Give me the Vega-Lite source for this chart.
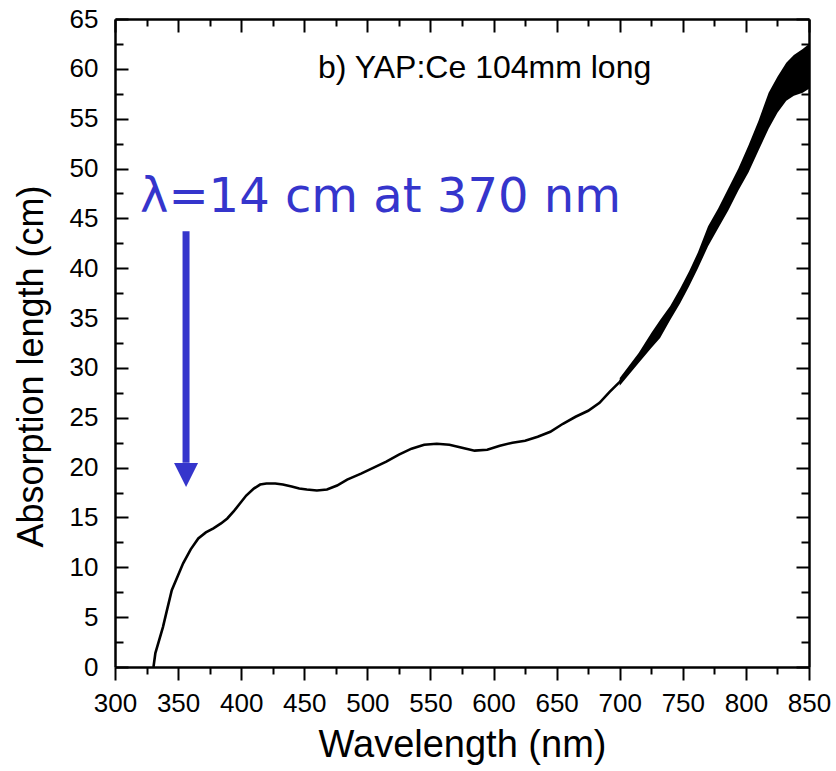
{
  "$schema": "https://vega.github.io/schema/vega-lite/v6.json",
  "width": 694,
  "height": 648,
  "autosize": {"type": "none"},
  "padding": {"left": 115, "top": 19, "right": 27, "bottom": 104},
  "background": "white",
  "view": {"stroke": null},
  "datasets": {
    "curve": [
      {"wl": 330.5, "len": 0}, {"wl": 332, "len": 1.4}, {"wl": 335, "len": 2.7}, {"wl": 338, "len": 4.0},
      {"wl": 341, "len": 5.6}, {"wl": 345, "len": 7.7}, {"wl": 350, "len": 9.2}, {"wl": 354, "len": 10.4},
      {"wl": 360, "len": 11.8}, {"wl": 366, "len": 12.9}, {"wl": 372, "len": 13.5}, {"wl": 378, "len": 13.9},
      {"wl": 384, "len": 14.4}, {"wl": 389, "len": 14.9}, {"wl": 394, "len": 15.6}, {"wl": 399, "len": 16.4},
      {"wl": 404, "len": 17.2}, {"wl": 410, "len": 17.9}, {"wl": 415, "len": 18.3}, {"wl": 420, "len": 18.4},
      {"wl": 427, "len": 18.4}, {"wl": 433, "len": 18.3}, {"wl": 440, "len": 18.1}, {"wl": 446, "len": 17.9},
      {"wl": 452, "len": 17.8}, {"wl": 460, "len": 17.7}, {"wl": 468, "len": 17.8}, {"wl": 476, "len": 18.2},
      {"wl": 484, "len": 18.8}, {"wl": 495, "len": 19.4}, {"wl": 505, "len": 20.0}, {"wl": 515, "len": 20.6},
      {"wl": 525, "len": 21.3}, {"wl": 535, "len": 21.9}, {"wl": 545, "len": 22.3}, {"wl": 555, "len": 22.4},
      {"wl": 565, "len": 22.3}, {"wl": 575, "len": 22.0}, {"wl": 585, "len": 21.7}, {"wl": 595, "len": 21.8},
      {"wl": 605, "len": 22.2}, {"wl": 615, "len": 22.5}, {"wl": 625, "len": 22.7}, {"wl": 635, "len": 23.1},
      {"wl": 645, "len": 23.6}, {"wl": 655, "len": 24.4}, {"wl": 665, "len": 25.1}, {"wl": 675, "len": 25.7},
      {"wl": 684, "len": 26.5}, {"wl": 692, "len": 27.6}, {"wl": 700, "len": 28.6}, {"wl": 706, "len": 29.5},
      {"wl": 715, "len": 31.0}, {"wl": 724, "len": 32.5}, {"wl": 732, "len": 33.8}, {"wl": 740, "len": 35.4},
      {"wl": 747, "len": 37.0}, {"wl": 753, "len": 38.4}, {"wl": 760, "len": 40.0}, {"wl": 766, "len": 41.6},
      {"wl": 772, "len": 43.2}, {"wl": 780, "len": 45.0}, {"wl": 790, "len": 47.5}, {"wl": 798, "len": 49.6},
      {"wl": 806, "len": 51.6}, {"wl": 813, "len": 53.5}, {"wl": 819, "len": 55.4}, {"wl": 826, "len": 57.3},
      {"wl": 833, "len": 58.6}, {"wl": 840, "len": 59.3}, {"wl": 845, "len": 59.6}, {"wl": 850, "len": 60.0}
    ],
    "band": [
      {"wl": 700, "lo": 28.2, "hi": 29.0}, {"wl": 715, "lo": 30.5, "hi": 31.5}, {"wl": 725, "lo": 32.0, "hi": 33.5},
      {"wl": 732, "lo": 33.0, "hi": 34.8}, {"wl": 740, "lo": 34.8, "hi": 36.2}, {"wl": 748, "lo": 36.5, "hi": 38.0},
      {"wl": 755, "lo": 38.2, "hi": 39.7}, {"wl": 762, "lo": 40.0, "hi": 41.6}, {"wl": 770, "lo": 42.2, "hi": 44.2},
      {"wl": 778, "lo": 44.0, "hi": 46.0}, {"wl": 786, "lo": 45.8, "hi": 48.0}, {"wl": 794, "lo": 47.8, "hi": 50.0},
      {"wl": 802, "lo": 49.6, "hi": 52.3}, {"wl": 810, "lo": 51.8, "hi": 54.8}, {"wl": 818, "lo": 54.0, "hi": 57.6},
      {"wl": 825, "lo": 55.6, "hi": 59.2}, {"wl": 832, "lo": 56.8, "hi": 60.6}, {"wl": 838, "lo": 57.3, "hi": 61.4},
      {"wl": 845, "lo": 57.6, "hi": 62.0}, {"wl": 850, "lo": 58.0, "hi": 62.5}
    ],
    "notes": [
      {"wl": 460.9, "len": 59.1, "txt": "b) YAP:Ce 104mm long"}
    ],
    "blue": [
      {"wl": 319.8, "len": 45.6, "txt": "λ=14 cm at 370 nm"}
    ],
    "arrow": [
      {"wl": 356.3, "top": 43.7, "base": 20.5, "head": 19.26}
    ]
  },
  "layer": [
    {
      "data": {"name": "curve"},
      "mark": {"type": "line", "color": "black", "strokeWidth": 2.6},
      "encoding": {
        "x": {
          "field": "wl", "type": "quantitative",
          "scale": {"domain": [300, 850], "nice": false, "zero": false},
          "axis": {
            "orient": "bottom",
            "values": [300, 350, 400, 450, 500, 550, 600, 650, 700, 750, 800, 850],
            "grid": false,
            "tickSize": 13, "tickWidth": 2, "tickColor": "black",
            "domainColor": "black", "domainWidth": 2.5,
            "labelFont": "Liberation Sans", "labelFontSize": 26, "labelColor": "black",
            "labelPadding": 10, "labelFlush": false, "labelOverlap": false,
            "title": "Wavelength (nm)",
            "titleFont": "Liberation Sans", "titleFontSize": 38, "titleFontWeight": "normal", "titleColor": "black",
            "titleY": 89, "titleBaseline": "alphabetic"
          }
        },
        "y": {
          "field": "len", "type": "quantitative",
          "scale": {"domain": [0, 65], "nice": false, "zero": false},
          "axis": {
            "orient": "left",
            "values": [0, 5, 10, 15, 20, 25, 30, 35, 40, 45, 50, 55, 60, 65],
            "grid": false,
            "tickSize": -13, "tickWidth": 2, "tickColor": "black",
            "domainColor": "black", "domainWidth": 2.5,
            "labelFont": "Liberation Sans", "labelFontSize": 26, "labelColor": "black",
            "labelPadding": 30, "labelFlush": false, "labelOverlap": false,
            "title": "Absorption length (cm)",
            "titleFont": "Liberation Sans", "titleFontSize": 36, "titleFontWeight": "normal", "titleColor": "black",
            "titleAngle": 270, "titleX": -73, "titleY": 347, "titleBaseline": "alphabetic", "titleAlign": "center"
          }
        }
      }
    },
    {
      "data": {"name": "band"},
      "mark": {"type": "area", "color": "black", "opacity": 1},
      "encoding": {
        "x": {
          "field": "wl", "type": "quantitative",
          "scale": {"domain": [300, 850], "nice": false, "zero": false},
          "axis": {
            "orient": "top",
            "values": [300, 350, 400, 450, 500, 550, 600, 650, 700, 750, 800, 850],
            "labels": false, "title": null, "grid": false,
            "tickSize": -13, "tickWidth": 2, "tickColor": "black",
            "domainColor": "black", "domainWidth": 2.5
          }
        },
        "y": {
          "field": "lo", "type": "quantitative",
          "scale": {"domain": [0, 65], "nice": false, "zero": false},
          "axis": {
            "orient": "right",
            "values": [0, 5, 10, 15, 20, 25, 30, 35, 40, 45, 50, 55, 60, 65],
            "labels": false, "title": null, "grid": false,
            "tickSize": -13, "tickWidth": 2, "tickColor": "black",
            "domainColor": "black", "domainWidth": 2.5
          }
        },
        "y2": {"field": "hi"}
      }
    },
    {
      "data": {"name": "notes"},
      "mark": {"type": "text", "align": "left", "baseline": "alphabetic", "font": "Liberation Sans", "fontSize": 32, "color": "black"},
      "encoding": {
        "x": {
          "field": "wl", "type": "quantitative",
          "axis": {
            "orient": "bottom",
            "values": [325, 375, 425, 475, 525, 575, 625, 675, 725, 775, 825],
            "labels": false, "title": null, "grid": false, "domain": false,
            "tickSize": 7, "tickWidth": 2, "tickColor": "black"
          }
        },
        "y": {
          "field": "len", "type": "quantitative",
          "axis": {
            "orient": "left",
            "values": [2.5, 7.5, 12.5, 17.5, 22.5, 27.5, 32.5, 37.5, 42.5, 47.5, 52.5, 57.5, 62.5],
            "labels": false, "title": null, "grid": false, "domain": false,
            "tickSize": -8, "tickWidth": 2, "tickColor": "black"
          }
        },
        "text": {"field": "txt"}
      }
    },
    {
      "data": {"name": "blue"},
      "mark": {"type": "text", "align": "left", "baseline": "alphabetic", "font": "DejaVu Sans", "fontSize": 48, "color": "#3535CC"},
      "encoding": {
        "x": {
          "field": "wl", "type": "quantitative",
          "axis": {
            "orient": "top",
            "values": [325, 375, 425, 475, 525, 575, 625, 675, 725, 775, 825],
            "labels": false, "title": null, "grid": false, "domain": false,
            "tickSize": -7, "tickWidth": 2, "tickColor": "black"
          }
        },
        "y": {
          "field": "len", "type": "quantitative",
          "axis": {
            "orient": "right",
            "values": [2.5, 7.5, 12.5, 17.5, 22.5, 27.5, 32.5, 37.5, 42.5, 47.5, 52.5, 57.5, 62.5],
            "labels": false, "title": null, "grid": false, "domain": false,
            "tickSize": -8, "tickWidth": 2, "tickColor": "black"
          }
        },
        "text": {"field": "txt"}
      }
    },
    {
      "data": {"name": "arrow"},
      "mark": {"type": "rule", "color": "#3535CC", "strokeWidth": 7},
      "encoding": {
        "x": {"field": "wl", "type": "quantitative", "axis": null},
        "y": {"field": "top", "type": "quantitative", "axis": null},
        "y2": {"field": "base"}
      }
    },
    {
      "data": {"name": "arrow"},
      "mark": {"type": "point", "shape": "M-1,-1L1,-1L0,1Z", "filled": true, "color": "#3535CC", "opacity": 1, "size": 576, "strokeWidth": 0},
      "encoding": {
        "x": {"field": "wl", "type": "quantitative", "axis": null},
        "y": {"field": "head", "type": "quantitative", "axis": null}
      }
    }
  ],
  "resolve": {"axis": {"x": "independent", "y": "independent"}}
}
